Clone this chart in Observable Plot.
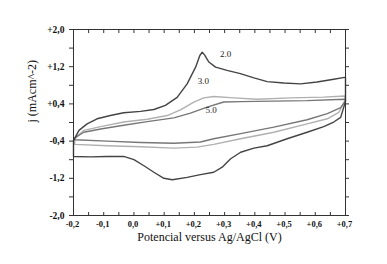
<!DOCTYPE html>
<html>
<head>
<meta charset="utf-8">
<script src="https://cdn.jsdelivr.net/npm/d3@7"></script>
<script src="https://cdn.jsdelivr.net/npm/@observablehq/plot@0.6"></script>
<style>
  html, body { margin: 0; padding: 0; background: #fff; }
  #chart { width: 387px; height: 264px; }
</style>
</head>
<body>
<div id="chart"></div>
<script>
// Series "2,0" (darkest) : forward scan then reverse scan
const e20 = [-0.2, -0.2, -0.182, -0.155, -0.122, -0.078, -0.034, 0.022, 0.066, 0.104, 0.143, 0.176, 0.204, 0.218, 0.226, 0.233, 0.248, 0.27, 0.308, 0.352, 0.397, 0.441, 0.496, 0.551, 0.606, 0.661, 0.697, 0.7, 0.7, 0.684, 0.661, 0.628, 0.573, 0.507, 0.441, 0.397, 0.353, 0.32, 0.292, 0.264, 0.22, 0.176, 0.127, 0.099, 0.066, 0.033, 0.0, -0.034, -0.089, -0.144, -0.2];
const j20 = [-0.73, -0.39, -0.17, -0.03, 0.08, 0.15, 0.21, 0.24, 0.28, 0.37, 0.54, 0.83, 1.19, 1.44, 1.51, 1.46, 1.30, 1.19, 1.12, 1.05, 0.96, 0.88, 0.85, 0.83, 0.87, 0.93, 0.97, 0.97, 0.45, 0.11, 0.01, -0.09, -0.21, -0.35, -0.50, -0.55, -0.64, -0.78, -0.96, -1.07, -1.12, -1.18, -1.23, -1.20, -1.07, -0.93, -0.80, -0.73, -0.73, -0.74, -0.73];
// Series "3,0" (light gray)
const e30 = [-0.196, -0.166, -0.11, -0.034, 0.044, 0.11, 0.154, 0.198, 0.231, 0.264, 0.33, 0.408, 0.518, 0.628, 0.697, 0.7, 0.678, 0.64, 0.573, 0.463, 0.353, 0.264, 0.209, 0.132, 0.022, -0.089, -0.196, -0.196];
const j30 = [-0.35, -0.17, -0.09, 0.01, 0.07, 0.15, 0.27, 0.44, 0.53, 0.56, 0.53, 0.50, 0.53, 0.545, 0.57, 0.48, 0.22, 0.08, -0.03, -0.21, -0.35, -0.47, -0.53, -0.55, -0.52, -0.50, -0.47, -0.35];
// Series "5,0" (medium gray)
const e50 = [-0.196, -0.166, -0.11, -0.034, 0.044, 0.132, 0.187, 0.242, 0.297, 0.353, 0.463, 0.573, 0.697, 0.7, 0.684, 0.64, 0.573, 0.463, 0.353, 0.264, 0.22, 0.132, 0.022, -0.089, -0.196, -0.196];
const j50 = [-0.33, -0.21, -0.14, -0.06, 0.02, 0.10, 0.20, 0.33, 0.44, 0.45, 0.46, 0.47, 0.50, 0.47, 0.32, 0.19, 0.06, -0.10, -0.24, -0.35, -0.42, -0.445, -0.43, -0.40, -0.37, -0.33];

const seriesNames = ["2.0", "3.0", "5.0"];
const labelE = [0.303, 0.23, 0.255];
const labelJ = [1.47, 0.88, 0.26];

const xMinorTicks = [-0.2, -0.15, -0.1, -0.05, 0, 0.05, 0.1, 0.15, 0.2, 0.25, 0.3, 0.35, 0.4, 0.45, 0.5, 0.55, 0.6, 0.65, 0.7];
const xLabelTicks = [-0.2, -0.1, 0, 0.1, 0.2, 0.3, 0.4, 0.5, 0.6, 0.7];
const xTickLabels = ["-0,2", "-0,1", "0,0", "+0,1", "+0,2", "+0,3", "+0,4", "+0,5", "+0,6", "+0,7"];
const yMinorTicks = [-2, -1.6, -1.2, -0.8, -0.4, 0, 0.4, 0.8, 1.2, 1.6, 2];
const yLabelTicks = [2, 1.2, 0.4, -0.4, -1.2, -2];
const yTickLabels = ["+2,0", "+1,2", "+0,4", "-0,4", "-1,2", "-2,0"];

const xTitle = "Potencial versus Ag/AgCl (V)";
const yTitle = "j (mAcm^-2)";

const toPts = (xs, ys) => xs.map((x, i) => ({x, y: ys[i]}));
const d20 = toPts(e20, j20), d30 = toPts(e30, j30), d50 = toPts(e50, j50);
const labels = seriesNames.map((t, i) => ({t, x: labelE[i], y: labelJ[i]}));

const fmtX = d => { const i = xLabelTicks.findIndex(v => Math.abs(v - d) < 1e-9); return i >= 0 ? xTickLabels[i] : ""; };
const fmtY = d => { const i = yLabelTicks.findIndex(v => Math.abs(v - d) < 1e-9); return i >= 0 ? yTickLabels[i] : ""; };
const blank = () => "";

const serif = "'Liberation Serif', 'DejaVu Serif', serif";

const chart = Plot.plot({
  width: 387,
  height: 264,
  marginLeft: 73,
  marginRight: 42,
  marginTop: 29,
  marginBottom: 49,
  style: {fontFamily: serif, background: "#fff", color: "#333"},
  x: {domain: [-0.2, 0.7]},
  y: {domain: [-2, 2]},
  marks: [
    Plot.line(d30, {x: "x", y: "y", stroke: "#b0b0b0", strokeWidth: 1.4, curve: "linear"}),
    Plot.line(d50, {x: "x", y: "y", stroke: "#777", strokeWidth: 1.4, curve: "linear"}),
    Plot.line(d20, {x: "x", y: "y", stroke: "#444", strokeWidth: 1.4, curve: "linear"}),
    Plot.frame({stroke: "#333", strokeWidth: 1}),
    // ticks (no text)
    Plot.axisX({anchor: "bottom", ticks: xMinorTicks, tickSize: -3, tickFormat: blank, label: null, stroke: "#333"}),
    Plot.axisX({anchor: "top", ticks: xMinorTicks, tickSize: -3, tickFormat: blank, label: null, stroke: "#333"}),
    Plot.axisY({anchor: "left", ticks: yMinorTicks, tickSize: 4, tickFormat: blank, label: null, stroke: "#333"}),
    Plot.axisY({anchor: "right", ticks: yMinorTicks, tickSize: 3, tickFormat: blank, label: null, stroke: "#333"}),
    // tick labels
    Plot.axisX({anchor: "bottom", ticks: xLabelTicks, tickSize: 0, tickPadding: 5, tickFormat: fmtX, label: null,
      fontSize: 8.5, fontWeight: "bold", fill: "#111", dx: -1}),
    Plot.axisY({anchor: "left", ticks: yLabelTicks, tickSize: 0, tickPadding: 9, tickFormat: fmtY, label: null,
      fontSize: 9.5, fontWeight: "bold", fill: "#111", letterSpacing: "1px"}),
    // curve labels
    Plot.text(labels, {x: "x", y: "y", text: "t", fontSize: 9, fill: "#222", fontFamily: serif}),
    // axis titles
    Plot.text([xTitle], {text: d => d, frameAnchor: "bottom", dy: 25, fontSize: 12, fill: "#111", fontFamily: serif}),
    Plot.text([yTitle], {text: d => d, frameAnchor: "left", dx: -41, rotate: -90, fontSize: 12, fill: "#111", fontFamily: serif})
  ]
});
document.getElementById("chart").appendChild(chart);
</script>
</body>
</html>
